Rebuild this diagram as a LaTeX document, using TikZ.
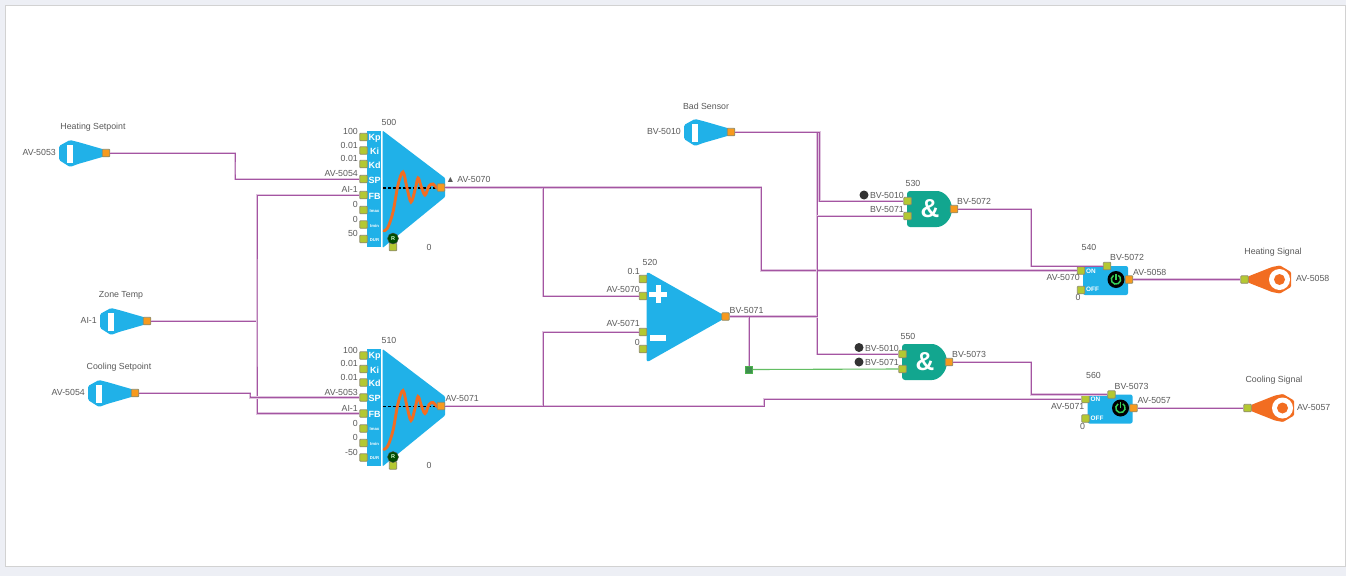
\documentclass[tikz,border=0pt]{standalone}
\usepackage{fontspec}
\setmainfont{Liberation Sans}
\definecolor{blockblue}{HTML}{20B1E8}
\definecolor{gateteal}{HTML}{12A68F}
\definecolor{signalorange}{HTML}{F26D21}
\definecolor{wirepurple}{HTML}{A455A2}
\definecolor{wiregreen}{HTML}{63BE63}
\definecolor{portin}{HTML}{B4C832}
\definecolor{portout}{HTML}{F79A1E}
\definecolor{labelgray}{HTML}{5A5A5A}
\definecolor{pagebg}{HTML}{EDEFF5}
\definecolor{powergreen}{HTML}{35CE55}
\definecolor{tapgreen}{HTML}{3F8F4F}
\tikzset{
  lbl/.style={text=labelgray, inner sep=0pt, font=\fontsize{8.8}{10}\selectfont},
  collbl/.style={text=white, inner sep=0pt, font=\bfseries\fontsize{9}{10}\selectfont},
  tinylbl/.style={text=white, inner sep=0pt, font=\bfseries\fontsize{4.2}{5}\selectfont},
  swlbl/.style={text=white, inner sep=0pt, font=\bfseries\fontsize{6.4}{7}\selectfont},
  inport/.style={draw=gray!75!olive, line width=0.8pt, fill=portin, rounded corners=0.8pt, inner sep=0pt, minimum size=7.5pt},
  outport/.style={draw=gray!75!olive, line width=0.8pt, fill=portout, rounded corners=0.8pt, inner sep=0pt, minimum size=7.5pt},
  wire/.style={draw=wirepurple, line width=1pt, preaction={draw=wirepurple!35, line width=2.2pt}},
  greenwire/.style={draw=wiregreen, line width=1.1pt},
  statedot/.style={circle, fill=black!80, inner sep=0pt, minimum size=9pt},
}
\begin{document}
\begin{tikzpicture}[x=1pt, y=-1pt]
  \useasboundingbox (0,0) rectangle (1346,576);
  % Page and card
  \fill[pagebg] (0,0) rectangle (1346,576);
  \draw[fill=white, draw=gray!35, line width=1pt] (5.5,5.5) rectangle (1345,566);

  % Inputs
  \foreach \nm/\dx/\dy/\title/\tx/\val in {hs/0/0/Heating Setpoint/93/AV-5053, zt/41/168/Zone Temp/80/AI-1, cs/29/240/Cooling Setpoint/90/AV-5054, bs/625/-21/Bad Sensor/81/BV-5010} {
    \begin{scope}[shift={(\dx,\dy)}]
      \fill[blockblue, rounded corners=1.5pt] (59,146) -- (70,140) -- (78,142) -- (104,149.5) -- (104,156.5) -- (78,164) -- (70,167) -- (59,160) -- cycle;
      \fill[white] (67.3,144.5) rectangle (72.7,162.5);
      \node[outport] (\nm out) at (106,153) {};
      \node[lbl] (\nm title) at (\tx,127) {\title};
      \node[lbl, anchor=east] (\nm val) at (56,152.5) {\val};
    \end{scope}
  }

  % PID blocks
  \foreach \blk/\dy/\id/\spv/\durv in {a/0/500/AV-5054/50, b/218.5/510/AV-5053/-50} {
    \begin{scope}[shift={(0,\dy)}]
      \fill[blockblue] (367,130.5) rectangle (381,247);
      \fill[blockblue, rounded corners=1pt] (382.5,130.5) -- (445,178) -- (445,197) -- (382.5,248) -- cycle;
      \draw[black, densely dashed, line width=1.4pt] (383,188) -- (438,188);
      \draw[signalorange, line width=2.9pt, line cap=round] plot[smooth, tension=0.55] coordinates {(384,231) (388,227) (393,212) (398,185) (403,172) (407,188) (411,202) (415,190) (418,178) (421,186) (425,195) (429,186) (433,184) (437,188) (441,188)};
      \foreach \p/\yy/\v/\c in {kp/137/100/Kp, ki/150.5/0.01/Ki, kd/164/0.01/Kd, sp/179/\spv/SP, fb/195/AI-1/FB} {
        \node[inport] (p\blk\p) at (363.5,\yy) {};
        \node[collbl] (c\blk\p) at (374.5,\yy+1) {\c};
        \node[lbl, anchor=east] (v\blk\p) at (358,\yy-5.5) {\v};
      }
      \foreach \p/\yy/\v/\c in {mx/210/0/Imax, mn/224.5/0/Imin, du/239/\durv/DUR} {
        \node[inport] (p\blk\p) at (363.5,\yy) {};
        \node[tinylbl] (c\blk\p) at (374.5,\yy+1) {\c};
        \node[lbl, anchor=east] (v\blk\p) at (358,\yy-5.5) {\v};
      }
      \node[outport] (p\blk out) at (441,187.5) {};
      \node[inport] (p\blk rst) at (393,247) {};
      \node[circle, draw=black!70, fill=green!30!black, inner sep=0pt, minimum size=11pt, text=white!85!green, font=\bfseries\fontsize{5.5}{6}\selectfont] (p\blk dot) at (393,238.5) {R};
      \node[lbl] (p\blk id) at (389,122) {\id};
      \node[lbl] (p\blk z) at (429,247) {0};
    \end{scope}
  }
  \node[lbl, anchor=west] (paoutval) at (446,179) {▲ AV-5070};
  \node[lbl, anchor=west] (pboutval) at (445.5,398) {AV-5071};

  % Comparator
  \fill[blockblue, rounded corners=3pt] (646.5,271.5) -- (727,317) -- (646.5,362.5) -- cycle;
  \draw[white, line width=5pt] (658,285) -- (658,303) (649,294) -- (667,294);
  \draw[white, line width=5.6pt] (650,338) -- (666,338);
  \node[inport] (opa) at (643,279) {};
  \node[inport] (opb) at (643,296) {};
  \node[inport] (opc) at (643,332) {};
  \node[inport] (opd) at (643,349) {};
  \node[outport] (opout) at (725.5,316.5) {};
  \node[lbl] (opid) at (650,262.5) {520};
  \node[lbl, anchor=east] (opaval) at (640,271) {0.1};
  \node[lbl, anchor=east] (opbval) at (640,289.5) {AV-5070};
  \node[lbl, anchor=east] (opcval) at (640,323.5) {AV-5071};
  \node[lbl, anchor=east] (opdval) at (640,342) {0};
  \node[lbl, anchor=west] (opoutval) at (729.5,310.5) {BV-5071};
  \node[draw=gray!60!green, line width=0.8pt, fill=tapgreen, inner sep=0pt, minimum size=7pt] (gn) at (749,369.5) {};

  % AND gates
  \foreach \g/\dx/\dy/\id/\q in {ana/0/0/530/BV-5072, anb/-5/153/550/BV-5073} {
    \begin{scope}[shift={(\dx,\dy)}]
      \fill[gateteal, rounded corners=3pt] (934,191) arc[start angle=90, end angle=-90, radius=18pt] -- (907,227) -- (907,191) -- cycle;
      \node[text=white, inner sep=0pt, font=\bfseries\fontsize{26}{28}\selectfont] (\g amp) at (930,208.5) {\&};
      \node[inport] (\g a) at (907.5,201) {};
      \node[inport] (\g b) at (907.5,216) {};
      \node[outport] (\g out) at (954,209) {};
      \node[lbl] (\g id) at (913,183) {\id};
      \node[lbl, anchor=east] (\g aval) at (904,195) {BV-5010};
      \node[lbl, anchor=east] (\g bval) at (904,209) {BV-5071};
      \node[lbl, anchor=west] (\g q) at (957,201) {\q};
    \end{scope}
  }
  \node[statedot] (dota) at (864,195) {};
  \node[statedot] (dotb) at (859,347.5) {};
  \node[statedot] (dotc) at (859,362) {};

  % Switches and outputs
  \foreach \s/\dx/\dy/\id/\q/\o/\ov/\onv/\title in {sa/0/0/540/BV-5072/AV-5058/0/AV-5070/Heating Signal, sb/4.5/128.5/560/BV-5073/AV-5057/-2/AV-5071/Cooling Signal} {
    \begin{scope}[shift={(\dx,\dy)}]
      \fill[blockblue, rounded corners=2pt] (1083,266) rectangle (1128,295);
      \fill[black] (1116,279.5) circle[radius=8.5pt];
      \draw[powergreen, line width=1.5pt] (1113.6,275.4) arc[start angle=120, end angle=420, radius=4.7pt];
      \draw[powergreen, line width=1.5pt] (1116,273.5) -- (1116,279.5);
      \node[swlbl] (\s onl) at (1091,271) {ON};
      \node[swlbl] (\s offl) at (1092.5,289.5) {OFF};
      \node[inport] (\s on) at (1081,270.5) {};
      \node[inport] (\s off) at (1081,290) {};
      \node[inport] (\s top) at (1107,266) {};
      \node[outport] (\s out) at (1129,279.5) {};
      \node[lbl] (\s id) at (1089,247) {\id};
      \node[lbl, anchor=west] (\s qv) at (1110,257.5) {\q};
      \node[lbl, anchor=west] (\s ov) at (1133,272) {\o};
      \node[lbl, anchor=east] (\s onv) at (1080,277.5) {\onv};
      \node[lbl] (\s zero) at (1078,297.5) {0};
    \end{scope}
    \begin{scope}[shift={(\dx*2/3,\dy)}]
      \fill[signalorange, rounded corners=1pt] (1248,276.5) -- (1272,267) -- (1280,265.5) -- (1291,272) -- (1291,287) -- (1280,293.5) -- (1272,292) -- (1248,282.5) -- cycle;
      \fill[white] (1279.5,279.5) circle[radius=10.5pt];
      \fill[signalorange] (1279.5,279.5) circle[radius=5.5pt];
      \node[inport] (\s in) at (1244.5,279.5) {};
      \node[lbl] (\s title) at (1273+\ov,252) {\title};
      \node[lbl, anchor=west] (\s inv) at (1296+\ov,278.5) {\o};
    \end{scope}
  }

  % Junctions of the wires
  \coordinate (ja) at (235,170);
  \coordinate (jz) at (257,321);
  \coordinate (jc) at (250,395);
  \coordinate (jd) at (761,230);
  \coordinate (je) at (543,187.5);
  \coordinate (jf) at (764,402);
  \coordinate (jg) at (543,406);
  \coordinate (jh) at (819.5,170);
  \coordinate (ji) at (817,250);
  \coordinate (jj) at (817,270);
  \coordinate (jk) at (749,316.5);
  \coordinate (jl) at (1031,240);
  \coordinate (jm) at (1031,380);

  % Wires
  \draw[wire] (hsout.east) -| (ja) |- (pasp.west);
  \draw[wire] (ztout.east) -- (jz);
  \draw[wire] (pafb.west) -| (jz) |- (pbfb.west);
  \draw[wire] (csout.east) -| (jc) |- (pbsp.west);
  \draw[wire] (paout.east) -| (jd) |- (saon.west);
  \draw[wire] (je) |- (opb.west);
  \draw[wire] (pbout.east) -| (jf) |- (sbon.west);
  \draw[wire] (jg) |- (opc.west);
  \draw[wire] (bsout.east) -| (jh) |- (anaa.west);
  \draw[wire] (bsout.east) -| (ji) |- (anba.west);
  \draw[wire] (opout.east) -| (jj) |- (anab.west);
  \draw[wire] (jk) -- (gn.north);
  \draw[greenwire] (gn.east) -- (anbb.west);
  \draw[wire] (anaout.east) -| (jl) |- (satop.west);
  \draw[wire] (anbout.east) -| (jm) |- (sbtop.west);
  \draw[wire] (saout.east) -- (sain.west);
  \draw[wire] (sbout.east) -- (sbin.west);
\end{tikzpicture}
\end{document}
